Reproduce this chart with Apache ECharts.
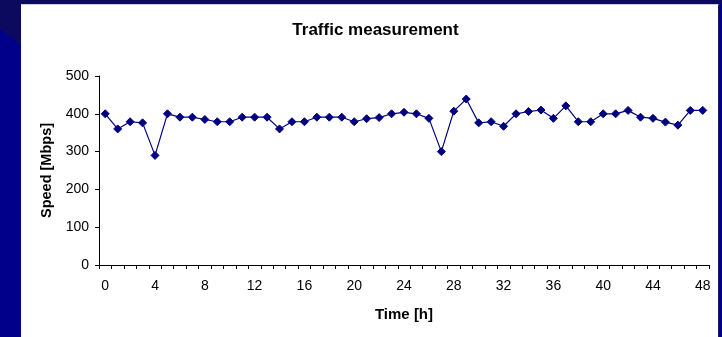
<!DOCTYPE html>
<html>
<head>
<meta charset="utf-8">
<script src="https://cdn.jsdelivr.net/npm/echarts@6/dist/echarts.min.js"></script>
<style>
  html, body { margin: 0; padding: 0; }
  body { width: 722px; height: 337px; overflow: hidden; position: relative; background: #0b0a5e; }
  #leftstrip { position: absolute; left: 0; top: 0; width: 21px; height: 337px;
               background: linear-gradient(218.7deg, #0b0a5e 0px, #0b0a5e 35px, #00008a 36px, #00008a 100%); }
  #rightstrip { position: absolute; left: 719px; top: 4px; width: 3px; height: 333px; background: #00008a; }
  #panel { position: absolute; left: 21px; top: 4px; width: 698px; height: 333px; background: #ffffff;
           border-top: 1px solid #c6cbe6; box-sizing: border-box; border-right: 1px solid #1a1a66; }
  #chart { position: absolute; left: 0; top: 0; width: 722px; height: 337px; }
</style>
</head>
<body>
<div id="leftstrip"></div>
<div id="rightstrip"></div>
<div id="panel"></div>
<div id="chart"></div>
<script>
const hours = ["0","1","2","3","4","5","6","7","8","9","10","11","12","13","14","15","16","17","18","19","20","21","22","23","24","25","26","27","28","29","30","31","32","33","34","35","36","37","38","39","40","41","42","43","44","45","46","47","48"];
const speed = [400,360,379,376,290,400,391,391,385,379,379,391,391,391,360,379,379,391,391,391,379,387,390,400,404,400,388,300,407,439,376,379,367,400,406,410,388,421,379,379,400,400,409,391,388,378,370,409,409];
const yTicks = [0,100,200,300,400,500];

const FONT = "'Liberation Sans', Arial, sans-serif";
const chart = echarts.init(document.getElementById('chart'), null, { renderer: 'canvas' });
chart.setOption({
  backgroundColor: 'transparent',
  animation: false,
  title: {
    text: 'Traffic measurement',
    left: 370.5, top: 17, textAlign: 'center',
    textStyle: { fontFamily: FONT, fontSize: 17, fontWeight: 'bold', color: '#000' }
  },
  grid: { left: 99, right: 13, top: 76, bottom: 72, containLabel: false },
  xAxis: {
    type: 'category',
    data: hours,
    boundaryGap: true,
    name: 'Time [h]',
    nameLocation: 'middle',
    nameGap: 42,
    nameTextStyle: { fontFamily: FONT, fontSize: 15, fontWeight: 'bold', color: '#000' },
    axisLine: { lineStyle: { color: '#000', width: 1 } },
    axisTick: { show: true, interval: 0, length: 4, alignWithLabel: false, lineStyle: { color: '#000' } },
    axisLabel: { interval: 3, margin: 14, fontFamily: FONT, fontSize: 14, color: '#000' },
    splitLine: { show: false }
  },
  yAxis: {
    type: 'value',
    min: yTicks[0], max: yTicks[yTicks.length - 1], interval: 100,
    name: 'Speed [Mbps]',
    nameLocation: 'middle',
    nameRotate: 90,
    nameGap: 42,
    nameTextStyle: { fontFamily: FONT, fontSize: 14.5, fontWeight: 'bold', color: '#000' },
    axisLine: { show: true, lineStyle: { color: '#000', width: 1 } },
    axisTick: { show: true, length: 4, lineStyle: { color: '#000' } },
    axisLabel: { margin: 10, fontFamily: FONT, fontSize: 14, color: '#000' },
    splitLine: { show: false }
  },
  series: [{
    type: 'line',
    data: speed,
    symbol: 'diamond',
    symbolSize: 8,
    showAllSymbol: true,
    lineStyle: { color: '#000080', width: 1.2 },
    itemStyle: { color: '#000080', borderColor: '#000080' }
  }]
});
</script>
</body>
</html>
